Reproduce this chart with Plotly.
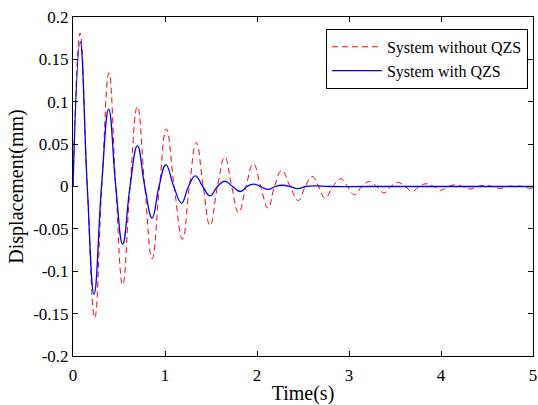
import plotly.graph_objects as go

# System without QZS (red dashed): extrema and zero crossings
red_t = [0, 0.076, 0.155, 0.236, 0.313, 0.391, 0.465, 0.54, 0.62, 0.70, 0.78, 0.86,
         0.94, 1.014, 1.10, 1.19, 1.265, 1.34, 1.415, 1.49, 1.57, 1.65, 1.725, 1.80,
         1.88, 1.96, 2.04, 2.12, 2.19, 2.27, 2.36, 2.45, 2.525, 2.60, 2.67, 2.74,
         2.825, 2.91, 2.985, 3.06, 3.14, 3.22, 3.30, 3.38, 3.455, 3.53, 3.61, 3.69,
         3.765, 3.84, 3.92, 4.00, 4.08, 4.16, 4.235, 4.31, 4.395, 4.48, 4.56, 4.64,
         4.72, 4.80, 4.885, 4.97, 5.0]
red_y = [0, 0.181, 0, -0.155, 0, 0.134, 0, -0.116, 0, 0.0945, 0, -0.0854,
         0, 0.068, 0, -0.062, 0, 0.052, 0, -0.046, 0, 0.0347, 0, -0.031,
         0, 0.0268, 0, -0.0255, 0, 0.019, 0, -0.0165, 0, 0.0118, 0, -0.0137,
         0, 0.0091, 0, -0.0098, 0, 0.0058, 0, -0.0075, 0, 0.0048, 0, -0.0059,
         0, 0.0032, 0, -0.0043, 0, 0.0020, 0, -0.0030, 0, 0.0012, 0, -0.0024,
         0, 0.0005, 0, -0.0022, -0.0015]

# System with QZS (blue solid)
blue_t = [0, 0.078, 0.155, 0.229, 0.31, 0.388, 0.465, 0.54, 0.62, 0.70, 0.78, 0.86,
          0.935, 1.01, 1.095, 1.18, 1.255, 1.33, 1.41, 1.49, 1.57, 1.65, 1.735, 1.82,
          1.89, 1.96, 2.04, 2.12, 2.20, 2.27, 2.36, 2.44, 2.53, 2.62, 2.80, 3.20, 4.0, 5.0]
blue_y = [0, 0.171, 0, -0.127, 0, 0.0914, 0, -0.068, 0, 0.048, 0, -0.037,
          0, 0.0256, 0, -0.0196, 0, 0.0126, 0, -0.011, 0, 0.0062, 0, -0.0059,
          0, 0.0028, 0, -0.0035, 0, 0.0015, 0, -0.0025, 0, 0.0008, 0, 0, 0, 0]

x_ticks = [0, 1, 2, 3, 4, 5]
y_ticks = [0.2, 0.15, 0.1, 0.05, 0, -0.05, -0.1, -0.15, -0.2]
y_tick_text = ["0.2", "0.15", "0.1", "0.05", "0", "-0.05", "-0.1", "-0.15", "-0.2"]

fig = go.Figure()
fig.add_trace(go.Scatter(
    x=red_t, y=red_y, mode="lines", name="System without QZS",
    line=dict(color="#ff0000", width=1, dash="6px,4px", shape="spline", smoothing=1.3),
))
fig.add_trace(go.Scatter(
    x=blue_t, y=blue_y, mode="lines", name="System with QZS",
    line=dict(color="#0000ff", width=1.3, shape="spline", smoothing=1.3),
))

axis_common = dict(
    showline=True, linecolor="black", linewidth=1, mirror="ticks",
    ticks="inside", ticklen=5, tickcolor="black", showgrid=False, zeroline=False,
    automargin=False, ticklabeloverflow="allow",
)
fig.update_xaxes(range=[0, 5], tickvals=x_ticks, ticklabelstandoff=4,
                 title=dict(text="Time(s)", font=dict(size=20), standoff=3),
                 **axis_common)
fig.update_yaxes(range=[-0.2, 0.2], tickvals=y_ticks, ticktext=y_tick_text,
                 title=dict(text="Displacement(mm)", font=dict(size=20), standoff=4),
                 **axis_common)

fig.update_layout(
    width=538, height=405,
    margin=dict(l=73, r=5, t=17, b=49),
    paper_bgcolor="white", plot_bgcolor="white",
    font=dict(family="Liberation Serif", size=17, color="black"),
    showlegend=True,
    legend=dict(x=0.989, xanchor="right", y=0.965, yanchor="top",
                bordercolor="black", borderwidth=1, bgcolor="white",
                font=dict(size=16), tracegroupgap=0, itemwidth=50),
)

# remove the default page margin so the figure fills the window exactly
fig.write_html("out.html",
               config={"displayModeBar": False},
               post_script="document.body.style.margin='0';document.body.style.overflow='hidden';")
